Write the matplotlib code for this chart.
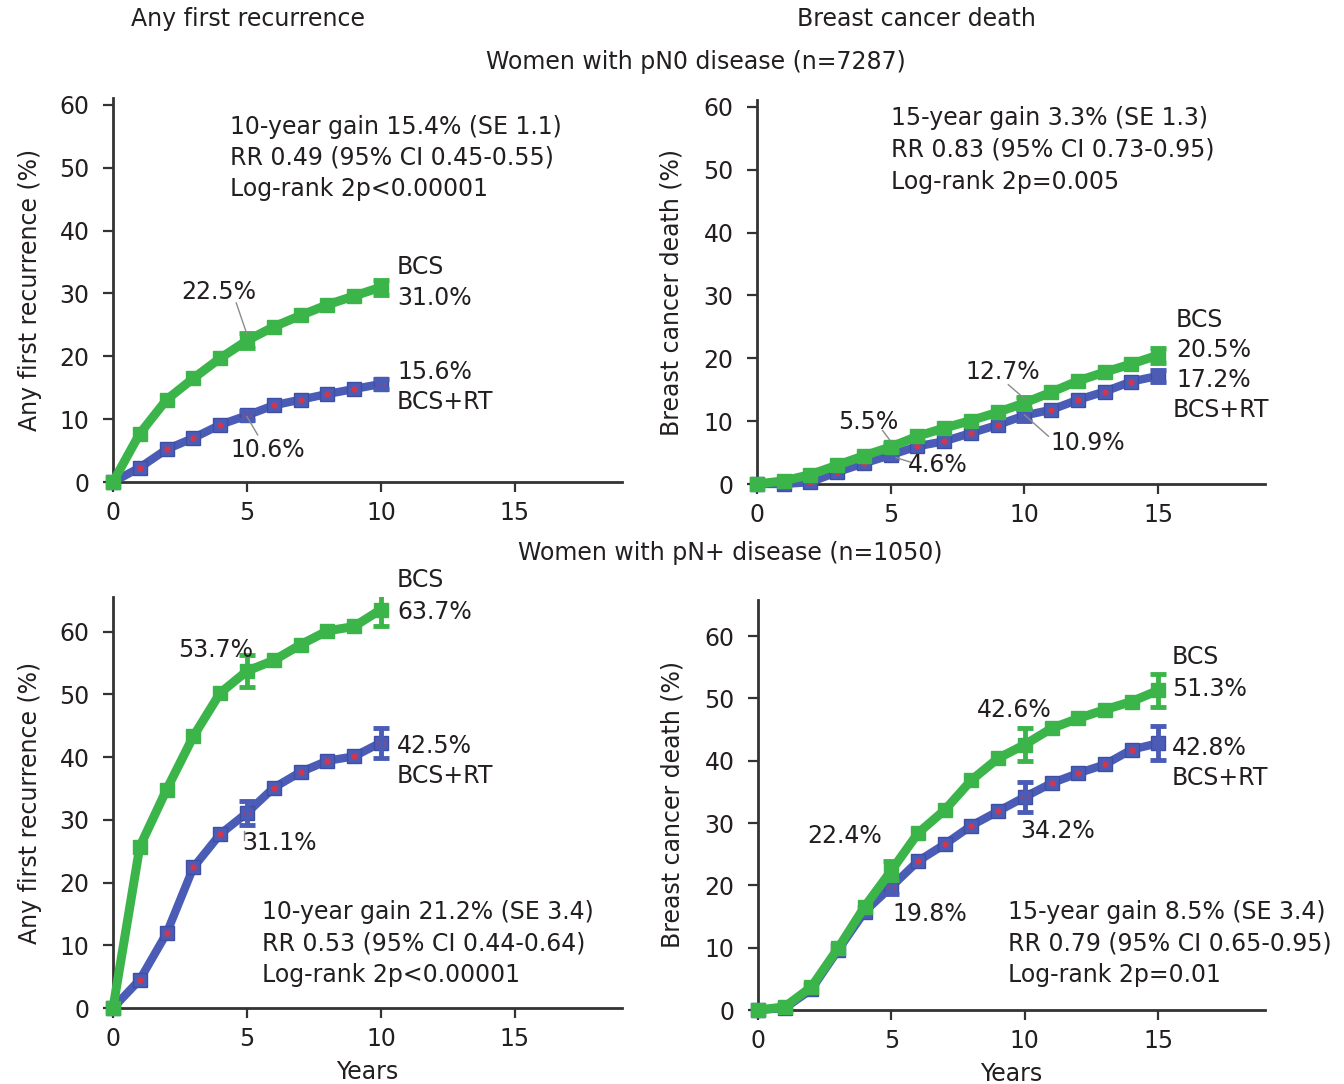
import numpy as np
import matplotlib.pyplot as plt

plt.rcParams['font.family'] = ['DejaVu Sans']

# cumulative risk (%) by year
years10 = np.arange(0, 11)
years15 = np.arange(0, 16)

pn0_rec_bcs = [0, 7.7, 13.1, 16.5, 19.7, 22.5, 24.7, 26.5, 28.2, 29.6, 31.0]
pn0_rec_rt = [0, 2.3, 5.2, 7.0, 9.1, 10.6, 12.2, 13.1, 14.0, 14.8, 15.6]
pn0_death_bcs = [0, 0.5, 1.5, 3.0, 4.5, 5.9, 7.6, 8.9, 10.1, 11.4, 12.9, 14.6, 16.4, 17.8, 19.1, 20.5]
pn0_death_rt = [0, 0, 0.3, 1.9, 3.3, 4.6, 6.0, 6.8, 8.1, 9.4, 10.9, 11.8, 13.4, 14.7, 16.3, 17.2]

pnp_rec_bcs = [0, 25.7, 34.8, 43.3, 50.2, 53.7, 55.4, 57.9, 60.1, 60.8, 63.5]
pnp_rec_rt = [0, 4.5, 11.9, 22.4, 27.7, 31.1, 35.1, 37.6, 39.4, 40.1, 42.3]
pnp_death_bcs = [0, 0.5, 3.7, 9.9, 16.6, 22.4, 28.4, 32.1, 36.9, 40.4, 42.6, 45.2, 46.8, 48.2, 49.5, 51.3]
pnp_death_rt = [0, 0.3, 3.3, 9.6, 15.8, 19.8, 23.9, 26.6, 29.6, 31.9, 34.2, 36.4, 38.0, 39.4, 41.8, 42.8]

# error bars (half widths) at years 5, 10, 15
pn0_rec_err_bcs = [1.2, 1.2]
pn0_rec_err_rt = [0.7, 0.8]
pn0_death_err_bcs = [0.6, 1.0, 1.2]
pn0_death_err_rt = [0.5, 0.8, 1.0]
pnp_rec_err_bcs = [2.6, 2.6]
pnp_rec_err_rt = [1.9, 2.4]
pnp_death_err_bcs = [1.5, 2.7, 2.7]
pnp_death_err_rt = [1.2, 2.4, 2.7]

GREEN = '#3bb54a'
BLUE = '#4a5cb6'
RED = '#d2364f'
TXT = '#231f20'
FS = 17
W, H = 1344, 1084

fig = plt.figure(figsize=(W / 100, H / 100), dpi=100)


def ptext(x, y, s, ha='left', **kw):
    fig.text(x / W, 1 - y / H, s, ha=ha, va='center', fontsize=FS, color=TXT, **kw)


def make_ax(left, bottom, right, top, ytop):
    ax = fig.add_axes([left / W, 1 - bottom / H, (right - left) / W, (bottom - top) / H])
    ax.set_xlim(0, 19)
    ax.set_ylim(0, ytop)
    for s in ['top', 'right']:
        ax.spines[s].set_visible(False)
    for s in ['left', 'bottom']:
        ax.spines[s].set_linewidth(2)
        ax.spines[s].set_color('#333333')
    ax.set_xticks([0, 5, 10, 15])
    ax.set_yticks(range(0, 61, 10))
    ax.tick_params(direction='out', length=7, width=1.6, colors='#333333',
                   labelsize=FS, labelcolor=TXT, pad=7)
    ax.tick_params(axis='y', pad=10)
    return ax


def draw(ax, x, bcs, rt, err_bcs, err_rt):
    ex = [5, 10, 15][:len(err_bcs)]
    rt = np.array(rt)
    bcs = np.array(bcs)
    ax.plot(x, rt, color=BLUE, lw=6, marker='s', ms=10, mfc=BLUE, mec='#3d4ea3',
            clip_on=False, zorder=3)
    ax.plot(x, rt, ls='none', marker='o', ms=3.5, color=RED, clip_on=False, zorder=4)
    ax.errorbar(ex, rt[ex], yerr=err_rt, fmt='none', ecolor=BLUE, elinewidth=3.5,
                capsize=6, capthick=3.5, zorder=4)
    ax.plot(x, bcs, color=GREEN, lw=6.5, marker='s', ms=10, mfc=GREEN, mec=GREEN,
            clip_on=False, zorder=5)
    ax.errorbar(ex, bcs[ex], yerr=err_bcs, fmt='none', ecolor=GREEN, elinewidth=3.5,
                capsize=6, capthick=3.5, zorder=6)


def leader(ax, x0, y0, x1, y1):
    ax.plot([x0, x1], [y0, y1], color='#8a8a8a', lw=1, zorder=7)


# top-left: pN0 any first recurrence
ax1 = make_ax(113, 482, 622, 98, 61.1)
draw(ax1, years10, pn0_rec_bcs, pn0_rec_rt, pn0_rec_err_bcs, pn0_rec_err_rt)
leader(ax1, 4.6, 28.5, 5.0, 23.5)
leader(ax1, 5.0, 10.4, 5.4, 7.5)
ax1.set_ylabel('Any first recurrence (%)', fontsize=FS, color=TXT, labelpad=12)

# top-right: pN0 breast cancer death
ax2 = make_ax(757, 484, 1265, 100, 61.1)
draw(ax2, years15, pn0_death_bcs, pn0_death_rt, pn0_death_err_bcs, pn0_death_err_rt)
leader(ax2, 9.4, 15.8, 10.0, 13.6)
leader(ax2, 5.2, 4.2, 5.8, 3.4)
leader(ax2, 10.0, 11.0, 10.9, 7.6)
leader(ax2, 4.7, 8.5, 5.0, 6.8)
ax2.set_ylabel('Breast cancer death (%)', fontsize=FS, color=TXT, labelpad=14)

# bottom-left: pN+ any first recurrence
ax3 = make_ax(113, 1008, 622, 597, 65.5)
draw(ax3, years10, pnp_rec_bcs, pnp_rec_rt, pnp_rec_err_bcs, pnp_rec_err_rt)
leader(ax3, 4.9, 28.2, 4.9, 26.8)
ax3.set_ylabel('Any first recurrence (%)', fontsize=FS, color=TXT, labelpad=12)
ax3.set_xlabel('Years', fontsize=FS, color=TXT, labelpad=6)

# bottom-right: pN+ breast cancer death
ax4 = make_ax(758, 1010, 1265, 600, 65.8)
draw(ax4, years15, pnp_death_bcs, pnp_death_rt, pnp_death_err_bcs, pnp_death_err_rt)
ax4.set_ylabel('Breast cancer death (%)', fontsize=FS, color=TXT, labelpad=14)
ax4.set_xlabel('Years', fontsize=FS, color=TXT, labelpad=6)

# titles
ptext(248, 19, 'Any first recurrence', ha='center')
ptext(916, 19, 'Breast cancer death', ha='center')
ptext(696, 62, 'Women with pN0 disease (n=7287)', ha='center')
ptext(730, 553, 'Women with pN+ disease (n=1050)', ha='center')

# panel annotations
for i, s in enumerate(['10-year gain 15.4% (SE 1.1)', 'RR 0.49 (95% CI 0.45-0.55)',
                       'Log-rank 2p<0.00001']):
    ptext(230, 127 + 31 * i, s)
ptext(397, 267, 'BCS')
ptext(397, 298, '31.0%')
ptext(397, 372, '15.6%')
ptext(397, 402, 'BCS+RT')
ptext(181, 292, '22.5%')
ptext(230, 450, '10.6%')

for i, s in enumerate(['15-year gain 3.3% (SE 1.3)', 'RR 0.83 (95% CI 0.73-0.95)',
                       'Log-rank 2p=0.005']):
    ptext(891, 118 + 32 * i, s)
ptext(1176, 320, 'BCS')
ptext(1176, 350, '20.5%')
ptext(1176, 380, '17.2%')
ptext(1173, 410, 'BCS+RT')
ptext(965, 372, '12.7%')
ptext(838, 422, '5.5%')
ptext(908, 465, '4.6%')
ptext(1050, 443, '10.9%')

for i, s in enumerate(['10-year gain 21.2% (SE 3.4)', 'RR 0.53 (95% CI 0.44-0.64)',
                       'Log-rank 2p<0.00001']):
    ptext(262, 912 + 31.5 * i, s)
ptext(397, 580, 'BCS')
ptext(397, 612, '63.7%')
ptext(397, 746, '42.5%')
ptext(397, 776, 'BCS+RT')
ptext(178, 650, '53.7%')
ptext(242, 843, '31.1%')

for i, s in enumerate(['15-year gain 8.5% (SE 3.4)', 'RR 0.79 (95% CI 0.65-0.95)',
                       'Log-rank 2p=0.01']):
    ptext(1008, 912 + 31.5 * i, s)
ptext(1172, 657, 'BCS')
ptext(1172, 689, '51.3%')
ptext(1172, 748, '42.8%')
ptext(1172, 778, 'BCS+RT')
ptext(977, 710, '42.6%')
ptext(807, 836, '22.4%')
ptext(892, 914, '19.8%')
ptext(1020, 831, '34.2%')

fig.savefig('out.png', dpi=100)
